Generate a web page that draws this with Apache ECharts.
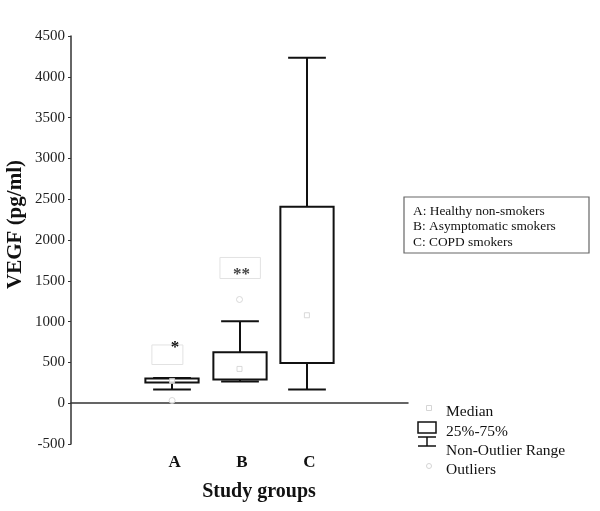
<!DOCTYPE html>
<html>
<head>
<meta charset="utf-8">
<script src="https://cdn.jsdelivr.net/npm/echarts@6/dist/echarts.min.js"></script>
<style>html,body{margin:0;padding:0;background:#fff}#c{width:600px;height:511px}</style>
</head>
<body>
<div id="c"></div>
<script>
// ---- data ----
var categories = ['', 'A', 'B', 'C', ''];
var yTicks = { min: -500, max: 4500, interval: 500 };
// [categoryIndex, min (non-outlier), Q1, median, Q3, max (non-outlier)]
var boxA = [1, 168, 254, 273, 303, 310];
var boxB = [2, 266, 290, 420, 625, 1005];
var boxC = [3, 168, 494, 1078, 2406, 4232];
var boxes = [boxA, boxB, boxC];
// [categoryIndex, value]
var outliers = [[1, 33], [2, 1271]];
// significance marks: [categoryIndex, lowValue, highValue, markValue, label]
var sigMarks = [[1, 474, 714, 712, '*'], [2, 1528, 1786, 1615, '**']];
var groupNames = ['A: Healthy non-smokers', 'B: Asymptomatic smokers', 'C: COPD smokers'];
var legendNames = ['Median', '25%-75%', 'Non-Outlier Range', 'Outliers'];
var yTitle = 'VEGF (pg/ml)';
var xTitle = 'Study groups';

var SERIF = '"Liberation Serif", "DejaVu Serif", serif';
var chart = echarts.init(document.getElementById('c'), null, { renderer: 'canvas' });

function renderBox(params, api) {
  var x = api.value(0);
  var lo = api.coord([x, api.value(1)]);
  var q1 = api.coord([x, api.value(2)]);
  var q3 = api.coord([x, api.value(4)]);
  var hi = api.coord([x, api.value(5)]);
  var band = api.size([1, 0])[0];
  var bw = band * 0.79, cw = band * 0.56;
  var cx = Math.round(q1[0]);
  var st = { stroke: '#111', lineWidth: 2, fill: null };
  return {
    type: 'group',
    children: [
      { type: 'line', shape: { x1: cx, y1: hi[1], x2: cx, y2: q3[1] }, style: st },
      { type: 'line', shape: { x1: cx, y1: q1[1], x2: cx, y2: lo[1] }, style: st },
      { type: 'line', shape: { x1: cx - cw / 2, y1: hi[1], x2: cx + cw / 2, y2: hi[1] }, style: st },
      { type: 'line', shape: { x1: cx - cw / 2, y1: lo[1], x2: cx + cw / 2, y2: lo[1] }, style: st },
      { type: 'rect', shape: { x: cx - bw / 2, y: q3[1], width: bw, height: q1[1] - q3[1] },
        style: { stroke: '#111', lineWidth: 2, fill: '#fff' } }
    ]
  };
}

function renderSig(params, api) {
  var x = api.value(0);
  var lo = api.coord([x, api.value(1)]);
  var hi = api.coord([x, api.value(2)]);
  var mk = api.coord([x, api.value(3)]);
  var band = api.size([1, 0])[0];
  var label = sigMarks[params.dataIndex][4];
  var cx = lo[0];
  var l, r, tx;
  if (label === '*') { l = cx - band * 0.30; r = cx + band * 0.16; tx = cx + 3; }
  else { l = cx - band * 0.29; r = cx + band * 0.31; tx = cx + 2; }
  return {
    type: 'group',
    children: [
      { type: 'rect', shape: { x: l, y: hi[1], width: r - l, height: lo[1] - hi[1] },
        style: { stroke: '#e2e2e2', lineWidth: 1, fill: null } },
      { type: 'text', style: { text: label, x: tx, y: mk[1] + 3, align: 'center', verticalAlign: 'middle',
        font: 'bold 17px ' + SERIF, fill: label === '*' ? '#111' : '#444' } }
    ]
  };
}

var legendX = 446, legendY = [411.5, 431.5, 451, 470];

chart.setOption({
  animation: false,
  backgroundColor: '#fff',
  grid: { left: 71, right: 192, top: 36, bottom: 67, containLabel: false, outerBoundsMode: 'none' },
  xAxis: {
    type: 'category', data: categories, boundaryGap: true,
    axisLine: { lineStyle: { color: '#333', width: 1.5 } },
    axisTick: { alignWithLabel: true, inside: true, length: 3, lineStyle: { color: '#333' } },
    axisLabel: { margin: 10, color: '#111', fontFamily: SERIF, fontWeight: 'bold', fontSize: 17, padding: [0, 0, 0, 5] }
  },
  yAxis: {
    type: 'value', min: yTicks.min, max: yTicks.max, interval: yTicks.interval,
    splitLine: { show: false },
    axisLine: { show: true, lineStyle: { color: '#333', width: 1.5 } },
    axisTick: { show: true, length: 3, lineStyle: { color: '#333' } },
    axisLabel: { margin: 6, color: '#222', fontFamily: SERIF, fontSize: 15,
      formatter: function (v) { return String(v); } }
  },
  series: [
    { type: 'custom', renderItem: renderBox, data: boxes, z: 2 },
    { type: 'scatter', data: boxes.map(function (b) { return [b[0], b[3]]; }), symbol: 'rect', symbolSize: 5,
      itemStyle: { color: '#fff', borderColor: '#cfcfcf', borderWidth: 1 }, z: 3 },
    { type: 'scatter', data: outliers, symbol: 'circle', symbolSize: 6,
      itemStyle: { color: '#fff', borderColor: '#cfcfcf', borderWidth: 1 }, z: 3 },
    { type: 'custom', renderItem: renderSig, data: sigMarks, z: 1 }
  ],
  graphic: [
    { type: 'text', x: 16, y: 224.5, rotation: Math.PI / 2,
      style: { text: yTitle, x: 0, y: 0, align: 'center', verticalAlign: 'middle', font: 'bold 21px ' + SERIF, fill: '#111' } },
    { type: 'text', style: { text: xTitle, x: 259, y: 492, align: 'center', verticalAlign: 'middle', font: 'bold 20px ' + SERIF, fill: '#111' } },

    { type: 'rect', shape: { x: 404, y: 197, width: 185, height: 56 },
      style: { fill: '#fff', stroke: '#666', lineWidth: 1.2 } },
    { type: 'text', style: { text: groupNames[0], x: 413, y: 211, verticalAlign: 'middle', font: '13.4px ' + SERIF, fill: '#111' } },
    { type: 'text', style: { text: groupNames[1], x: 413, y: 226.5, verticalAlign: 'middle', font: '13.4px ' + SERIF, fill: '#111' } },
    { type: 'text', style: { text: groupNames[2], x: 413, y: 242, verticalAlign: 'middle', font: '13.4px ' + SERIF, fill: '#111' } },

    { type: 'rect', shape: { x: 426.5, y: 405.5, width: 5, height: 5 }, style: { fill: '#fff', stroke: '#d5d5d5', lineWidth: 1 } },
    { type: 'rect', shape: { x: 418, y: 422, width: 18, height: 11 }, style: { fill: '#fff', stroke: '#111', lineWidth: 1.5 } },
    { type: 'line', shape: { x1: 418, y1: 437, x2: 436, y2: 437 }, style: { stroke: '#111', lineWidth: 1.5 } },
    { type: 'line', shape: { x1: 427, y1: 437, x2: 427, y2: 446 }, style: { stroke: '#111', lineWidth: 1.5 } },
    { type: 'line', shape: { x1: 418, y1: 446, x2: 436, y2: 446 }, style: { stroke: '#111', lineWidth: 1.5 } },
    { type: 'circle', shape: { cx: 429, cy: 466, r: 2.5 }, style: { fill: '#fff', stroke: '#d5d5d5', lineWidth: 1 } },
    { type: 'text', style: { text: legendNames[0], x: legendX, y: legendY[0], verticalAlign: 'middle', font: '15.5px ' + SERIF, fill: '#111' } },
    { type: 'text', style: { text: legendNames[1], x: legendX, y: legendY[1], verticalAlign: 'middle', font: '15.5px ' + SERIF, fill: '#111' } },
    { type: 'text', style: { text: legendNames[2], x: legendX, y: legendY[2], verticalAlign: 'middle', font: '15.5px ' + SERIF, fill: '#111' } },
    { type: 'text', style: { text: legendNames[3], x: legendX, y: legendY[3], verticalAlign: 'middle', font: '15.5px ' + SERIF, fill: '#111' } }
  ]
});
</script>
</body>
</html>
